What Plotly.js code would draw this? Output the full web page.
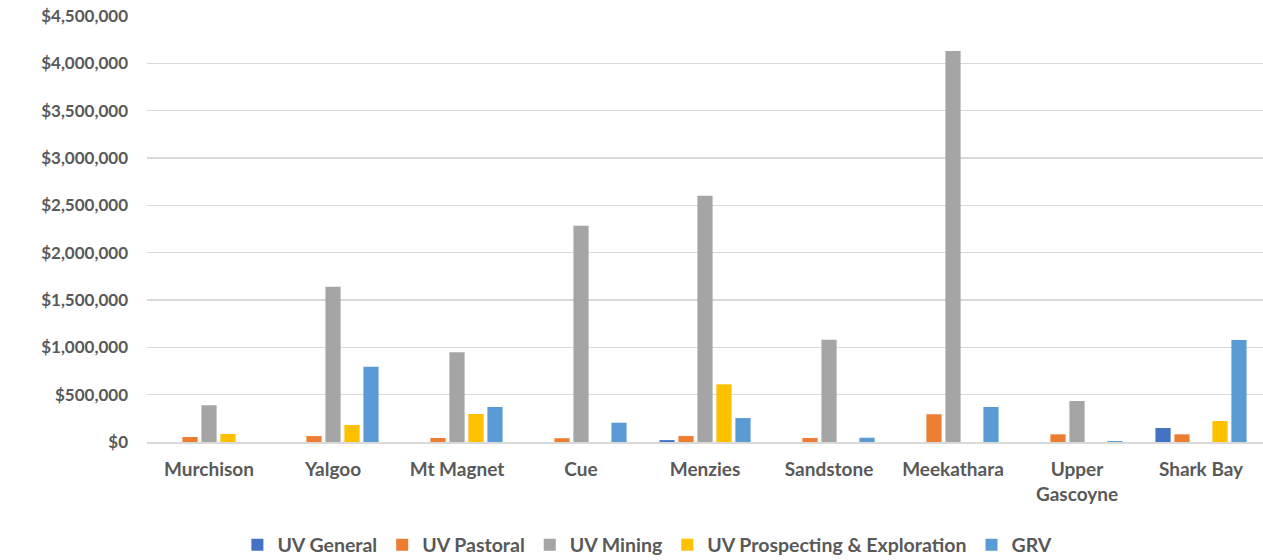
<!DOCTYPE html>
<html>
<head>
<meta charset="utf-8">
<script src="https://cdn.plot.ly/plotly-3.0.1.min.js"></script>
<style>html,body{margin:0;padding:0;background:#fff;}#chart{width:1263px;height:560px;}</style>
</head>
<body>
<div id="chart"></div>
<script>
const categories = ["Murchison","Yalgoo","Mt Magnet","Cue","Menzies","Sandstone","Meekathara","Upper<br>Gascoyne","Shark Bay"];
const uvGeneral     = [0, 0, 0, 0, 20000, 0, 0, 0, 148000];
const uvPastoral    = [53000, 63000, 42000, 40000, 63000, 42000, 293000, 81000, 81000];
const uvMining      = [388000, 1640000, 947000, 2285000, 2600000, 1080000, 4130000, 433000, 0];
const uvProspecting = [85000, 180000, 296000, 0, 609000, 0, 0, 0, 222000];
const grv           = [0, 795000, 370000, 204000, 253000, 45000, 370000, 10000, 1077000];

const seriesNames = ["UV General","UV Pastoral","UV Mining","UV Prospecting & Exploration","GRV"];
const seriesData = [uvGeneral, uvPastoral, uvMining, uvProspecting, grv];
const colors = ["#4472C4","#ED7D31","#A5A5A5","#FFC000","#5B9BD5"];

const traces = seriesNames.map((n,i)=>({
  type:'bar', name:n, x:categories, y:seriesData[i],
  marker:{color:colors[i]}, hoverinfo:'none'
}));

const fam = 'Lato, "Open Sans", sans-serif';
const layout = {
  width:1263, height:560,
  margin:{l:147, r:0, t:16, b:118, autoexpand:false},
  barmode:'group', bargap:0.234, bargroupgap:0.2,
  paper_bgcolor:'#fff', plot_bgcolor:'#fff',
  font:{family:fam, size:16, color:'#595959', weight:'bold'},
  showlegend:true,
  legend:{orientation:'h', x:0.081, xanchor:'left', y:-0.196, yanchor:'top',
    font:{family:fam, size:19.5, color:'#595959', weight:'bold'}, traceorder:'normal', itemwidth:30},
  xaxis:{type:'category', showgrid:false, showline:true, linecolor:'#D9D9D9', linewidth:1.5,
    ticks:'', ticklabelstandoff:10,
    tickfont:{family:fam, size:19, color:'#595959', weight:'bold'}, automargin:false},
  yaxis:{range:[0,4500000], dtick:500000, tickprefix:'$', tickformat:',d',
    showgrid:true, gridcolor:'#D9D9D9', gridwidth:1.5, zeroline:false, showline:false,
    ticks:'', ticklabelstandoff:18,
    tickfont:{family:fam, size:17, color:'#595959', weight:'bold'}, automargin:false}
};
Plotly.newPlot('chart', traces, layout, {displayModeBar:false, staticPlot:true});
</script>
</body>
</html>
